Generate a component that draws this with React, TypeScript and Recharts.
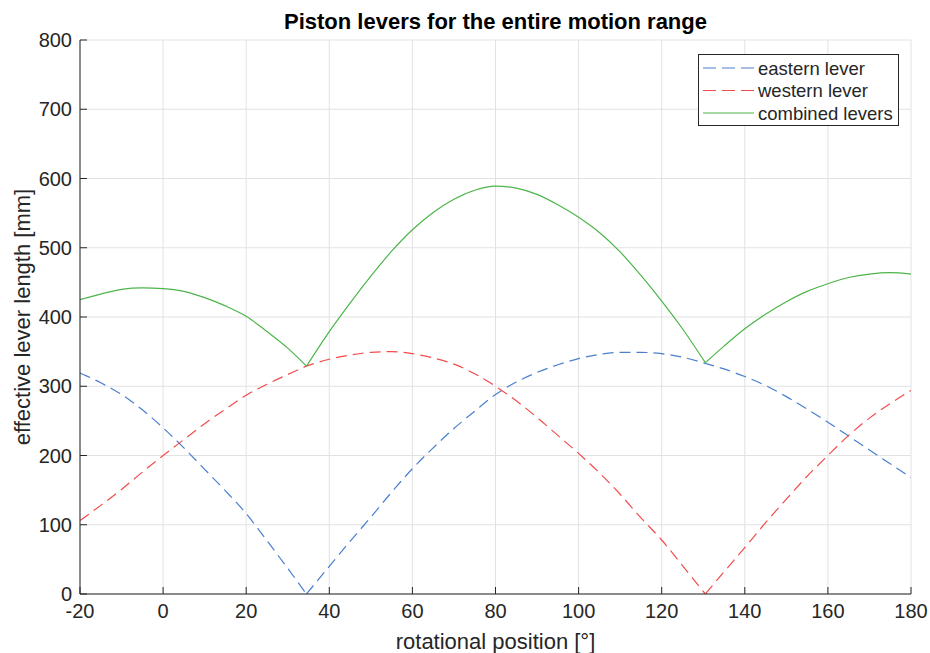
import { LineChart, Line, XAxis, YAxis, CartesianGrid } from "recharts"

const angles = [
  -20, -15, -10, -5, 0, 5, 10, 15, 20, 25, 30, 34.5, 40, 45, 50, 55, 60, 65, 70, 75, 80,
  85, 90, 95, 100, 105, 110, 115, 120, 125, 130.5, 135, 140, 145, 150, 155, 160, 165, 170, 175, 180,
]

const eastern = [
  319, 305, 288, 266, 240, 211, 180, 149, 116, 77, 37, 0, 40, 76, 111, 147, 181, 211, 239, 264, 288,
  306, 320, 331, 340, 346, 349, 349, 347, 342, 333, 325, 314, 301, 285, 267, 248, 228, 208, 188, 168,
]

const western = [
  106, 128, 151, 176, 200, 223, 246, 267, 287, 303, 317, 329, 339, 345, 349, 350, 347, 341, 332, 318, 300,
  279, 255, 229, 203, 175, 144, 110, 78, 41, 0, 32, 67, 103, 137, 170, 200, 229, 254, 275, 294,
]

const combined = [
  425, 433, 440, 442, 441, 437, 428, 416, 401, 379, 355, 329, 379, 420, 459, 495, 526, 551, 570, 583, 589,
  586, 577, 562, 544, 522, 494, 460, 423, 383, 334, 358, 383, 404, 422, 437, 448, 457, 462, 464, 462,
]

// angles where a curve has a sharp corner (drawn as separate smooth pieces)
const easternCusps = [34.5]
const westernCusps = [130.5]
const combinedCusps = [34.5, 130.5]

const xTicks = [-20, 0, 20, 40, 60, 80, 100, 120, 140, 160, 180]
const yTicks = [0, 100, 200, 300, 400, 500, 600, 700, 800]

const seriesInfo = [
  { key: "eastern", name: "eastern lever", color: "#4a7fcf", dash: "11 6", values: eastern, cusps: easternCusps },
  { key: "western", name: "western lever", color: "#f24c4c", dash: "11 6", values: western, cusps: westernCusps },
  { key: "combined", name: "combined levers", color: "#4db54a", dash: undefined, values: combined, cusps: combinedCusps },
]

// split each series into pieces between cusps so the curve stays smooth but the corners stay sharp
const pieces: { key: string; color: string; dash?: string }[] = []
const data: any[] = angles.map((a) => ({ angle: a }))
seriesInfo.forEach((s) => {
  const bounds = [angles[0], ...s.cusps, angles[angles.length - 1]]
  for (let j = 0; j < bounds.length - 1; j++) {
    const k = `${s.key}_${j}`
    pieces.push({ key: k, color: s.color, dash: s.dash })
    angles.forEach((a, i) => {
      data[i][k] = a >= bounds[j] && a <= bounds[j + 1] ? s.values[i] : null
    })
  }
})

const FONT = "'Liberation Sans', Arial, Helvetica, sans-serif"
const INK = "#262626"

function BottomTick(props: any) {
  const { x, y, payload } = props
  return (
    <g>
      <line x1={x} x2={x} y1={y} y2={y - 7} stroke={INK} />
      <text x={x} y={y + 24} textAnchor="middle" fill={INK} fontSize={20} fontFamily={FONT}>
        {payload.value}
      </text>
    </g>
  )
}

function TopTick(props: any) {
  const { x, y } = props
  return <line x1={x} x2={x} y1={y} y2={y + 7} stroke={INK} />
}

function LeftTick(props: any) {
  const { x, y, payload } = props
  return (
    <g>
      <line x1={x} x2={x + 7} y1={y} y2={y} stroke={INK} />
      <text x={x - 8} y={y} dy="0.36em" textAnchor="end" fill={INK} fontSize={20} fontFamily={FONT}>
        {payload.value}
      </text>
    </g>
  )
}

function RightTick(props: any) {
  const { x, y } = props
  return <line x1={x} x2={x - 7} y1={y} y2={y} stroke={INK} />
}

export default function App() {
  return (
    <div style={{ position: "fixed", left: 0, top: 0, width: 930, height: 653, overflow: "hidden", background: "#fff" }}>
      <LineChart
        width={930}
        height={653}
        data={data}
        margin={{ top: 40, right: 19, bottom: 0, left: 0 }}
        style={{ overflow: "visible" }}
      >
        <CartesianGrid stroke="#e2e2e2" strokeWidth={1} />
        <XAxis
          dataKey="angle"
          type="number"
          domain={[-20, 180]}
          ticks={xTicks}
          interval={0}
          height={59}
          tickSize={0}
          tickMargin={0}
          tick={BottomTick}
          axisLine={{ stroke: INK }}
          allowDataOverflow
          label={{
            value: "rotational position [°]",
            position: "insideBottom",
            offset: 4.5,
            fill: INK,
            fontSize: 22,
            fontFamily: FONT,
          }}
        />
        <XAxis
          xAxisId="top"
          dataKey="angle"
          orientation="top"
          type="number"
          domain={[-20, 180]}
          ticks={xTicks}
          interval={0}
          height={0}
          tickSize={0}
          tickMargin={0}
          tick={TopTick}
          axisLine={{ stroke: INK }}
          allowDataOverflow
        />
        <YAxis
          type="number"
          domain={[0, 800]}
          ticks={yTicks}
          interval={0}
          width={80}
          tickSize={0}
          tickMargin={0}
          tick={LeftTick}
          axisLine={{ stroke: INK }}
          allowDataOverflow
          label={{
            value: "effective lever length [mm]",
            angle: -90,
            position: "insideLeft",
            offset: 22,
            fill: INK,
            fontSize: 22,
            fontFamily: FONT,
            style: { textAnchor: "middle" },
          }}
        />
        <YAxis
          yAxisId="right"
          orientation="right"
          type="number"
          domain={[0, 800]}
          ticks={yTicks}
          interval={0}
          width={0}
          tickSize={0}
          tickMargin={0}
          tick={RightTick}
          axisLine={{ stroke: INK }}
          allowDataOverflow
        />
        {pieces.map((p) => (
          <Line
            key={p.key}
            type="monotone"
            dataKey={p.key}
            stroke={p.color}
            strokeWidth={1.2}
            strokeDasharray={p.dash}
            dot={false}
            activeDot={false}
            connectNulls={false}
            isAnimationActive={false}
          />
        ))}
      </LineChart>

      {/* title */}
      <div
        style={{
          position: "absolute",
          left: 80,
          width: 831,
          top: 10,
          textAlign: "center",
          fontFamily: FONT,
          fontWeight: "bold",
          fontSize: 22,
          lineHeight: "24px",
          color: "#000",
        }}
      >
        Piston levers for the entire motion range
      </div>

      {/* legend */}
      <svg style={{ position: "absolute", left: 698, top: 54 }} width={201} height={72}>
        <rect x={0.5} y={0.5} width={200} height={71} fill="#fff" stroke={INK} />
        {seriesInfo.map((s, i) => {
          const cy = 14 + i * 22.5
          return (
            <g key={s.key}>
              <line x1={5} x2={56} y1={cy} y2={cy} stroke={s.color} strokeWidth={1.2} strokeDasharray={s.dash ? "13 6" : undefined} />
              <text x={60} y={cy} dy="0.36em" fill={INK} fontSize={18.5} fontFamily={FONT}>
                {s.name}
              </text>
            </g>
          )
        })}
      </svg>
    </div>
  )
}
